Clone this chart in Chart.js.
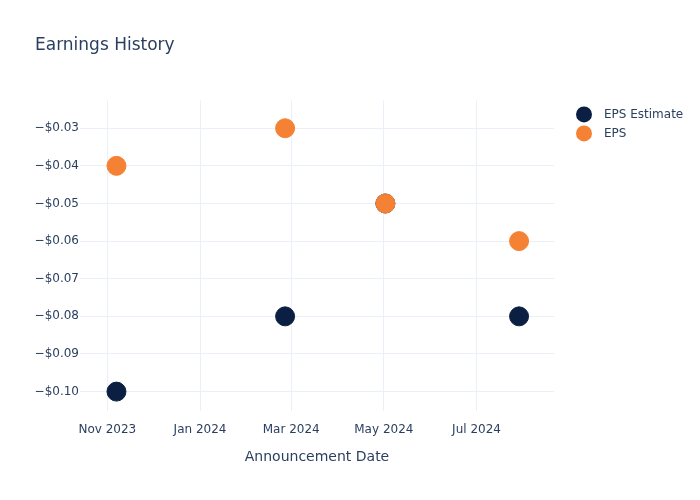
<!DOCTYPE html>
<html>
<head>
<meta charset="utf-8">
<script src="https://cdn.jsdelivr.net/npm/chart.js@4.4.1/dist/chart.umd.min.js"></script>
<style>
  html, body { margin: 0; padding: 0; background: #fff; }
  #wrap { width: 700px; height: 500px; }
</style>
</head>
<body>
<div id="wrap"><canvas id="chart" width="700" height="500"></canvas></div>
<script>
// announcement dates (UTC) and values
const announceDates = ['2023-11-07', '2024-02-26', '2024-05-02', '2024-07-29'];
const epsEstimate = [-0.10, -0.08, -0.05, -0.08];
const epsActual = [-0.04, -0.03, -0.05, -0.06];

const xTickDates = ['2023-11-01', '2024-01-01', '2024-03-01', '2024-05-01', '2024-07-01'];
const xTickLabels = ['Nov 2023', 'Jan 2024', 'Mar 2024', 'May 2024', 'Jul 2024'];
const yTickValues = [-0.10, -0.09, -0.08, -0.07, -0.06, -0.05, -0.04, -0.03];

const toTime = d => Date.parse(d + 'T00:00:00Z');
const xTicks = xTickDates.map(toTime);

const textColor = '#2a3f5f';
const gridColor = '#ebf0f8';

Chart.defaults.font.family = '"DejaVu Sans", sans-serif';
Chart.defaults.color = textColor;

function points(values) {
    return announceDates.map((d, i) => ({ x: toTime(d), y: values[i] }));
}

// plotly-style legend to the right of the plot area
const sideLegend = {
    id: 'sideLegend',
    afterDraw(chart) {
        const ctx = chart.ctx;
        const area = chart.chartArea;
        ctx.save();
        ctx.font = '12px "DejaVu Sans", sans-serif';
        ctx.textBaseline = 'middle';
        ctx.textAlign = 'left';
        chart.data.datasets.forEach((ds, i) => {
            const y = area.top + 14 + i * 19;
            ctx.beginPath();
            ctx.arc(area.right + 30, y, 8, 0, Math.PI * 2);
            ctx.fillStyle = ds.backgroundColor;
            ctx.fill();
            ctx.fillStyle = textColor;
            ctx.fillText(ds.label, area.right + 50, y);
        });
        ctx.restore();
    }
};

new Chart(document.getElementById('chart'), {
    type: 'scatter',
    data: {
        datasets: [
            {
                label: 'EPS Estimate',
                data: points(epsEstimate),
                backgroundColor: '#0b1f42',
                borderColor: '#0b1f42',
                pointRadius: 9.5,
                pointHoverRadius: 9.5,
                order: 1
            },
            {
                label: 'EPS',
                data: points(epsActual),
                backgroundColor: '#f58234',
                borderColor: '#f58234',
                pointRadius: 9.5,
                pointHoverRadius: 9.5,
                order: 0
            }
        ]
    },
    plugins: [sideLegend],
    options: {
        responsive: false,
        animation: false,
        layout: { padding: { left: 35, right: 146, top: 0, bottom: 34 } },
        plugins: {
            title: {
                display: true,
                text: 'Earnings History',
                align: 'start',
                color: textColor,
                font: { size: 17, weight: 'normal' },
                padding: { top: 35, bottom: 45 }
            },
            legend: { display: false },
            tooltip: { enabled: false }
        },
        scales: {
            x: {
                type: 'linear',
                min: toTime('2023-10-14'),
                max: toTime('2024-08-21'),
                afterBuildTicks: axis => { axis.ticks = xTicks.map(v => ({ value: v })); },
                ticks: {
                    padding: 12,
                    maxRotation: 0,
                    font: { size: 12 },
                    color: textColor,
                    callback: v => xTickLabels[xTicks.indexOf(v)]
                },
                grid: { color: gridColor, drawTicks: false },
                border: { display: false },
                title: {
                    display: true,
                    text: 'Announcement Date',
                    color: textColor,
                    font: { size: 14 },
                    padding: { top: 0, bottom: 0 }
                }
            },
            y: {
                min: -0.1051,
                max: -0.0226,
                afterBuildTicks: axis => { axis.ticks = yTickValues.map(v => ({ value: v })); },
                afterFit: axis => { axis.width = 45; },
                ticks: {
                    padding: 1,
                    font: { size: 12 },
                    color: textColor,
                    callback: v => '\u2212$' + Math.abs(v).toFixed(2)
                },
                grid: { color: gridColor, drawTicks: false },
                border: { display: false }
            }
        }
    }
});
</script>
</body>
</html>
